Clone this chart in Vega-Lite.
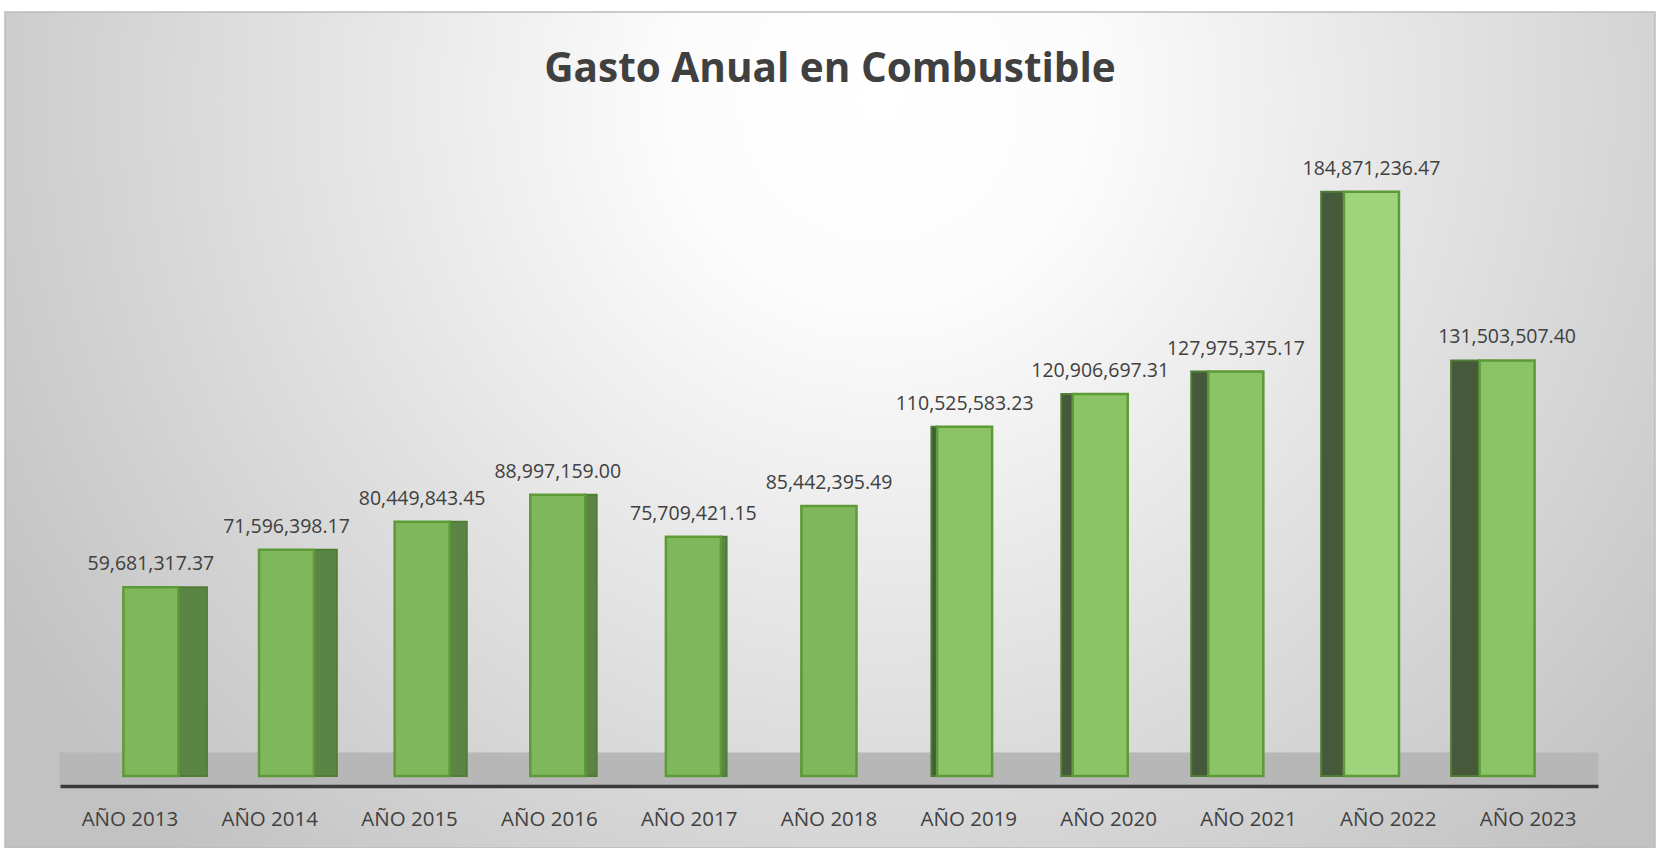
{
  "$schema": "https://vega.github.io/schema/vega-lite/v6.json",
  "width": 1650,
  "height": 836,
  "autosize": "none",
  "padding": {"left": 5, "top": 12, "right": 11, "bottom": 0},
  "background": "#ffffff",
  "config": {
    "view": {
      "stroke": "#bcbcbc",
      "strokeWidth": 1.5,
      "fill": {
        "gradient": "radial",
        "x1": 0.53, "y1": 0.3, "r1": 0,
        "x2": 0.53, "y2": 0.3, "r2": 0.62,
        "stops": [
          {"offset": 0, "color": "#ffffff"},
          {"offset": 0.2, "color": "#fcfcfc"},
          {"offset": 1, "color": "#c2c2c2"}
        ]
      }
    }
  },
  "title": {
    "text": "Gasto Anual en Combustible",
    "offset": -110,
    "baseline": "alphabetic",
    "anchor": "middle",
    "frame": "group",
    "font": "Open Sans",
    "fontSize": 40.5,
    "fontWeight": "bold",
    "color": "#404040"
  },
  "data": {
    "values": [
      {"anio": "AÑO 2013", "gasto": 59681317.37},
      {"anio": "AÑO 2014", "gasto": 71596398.17},
      {"anio": "AÑO 2015", "gasto": 80449843.45},
      {"anio": "AÑO 2016", "gasto": 88997159.00},
      {"anio": "AÑO 2017", "gasto": 75709421.15},
      {"anio": "AÑO 2018", "gasto": 85442395.49},
      {"anio": "AÑO 2019", "gasto": 110525583.23},
      {"anio": "AÑO 2020", "gasto": 120906697.31},
      {"anio": "AÑO 2021", "gasto": 127975375.17},
      {"anio": "AÑO 2022", "gasto": 184871236.47},
      {"anio": "AÑO 2023", "gasto": 131503507.40}
    ]
  },
  "encoding": {
    "x": {
      "field": "anio",
      "type": "nominal",
      "sort": null,
      "title": null,
      "scale": {"range": [55, 1593], "paddingInner": 0, "paddingOuter": 0},
      "axis": {
        "orient": "bottom",
        "offset": -62,
        "domainColor": "#3a3a3a",
        "domainWidth": 3.5,
        "ticks": false,
        "tickSize": 0,
        "grid": false,
        "labelAngle": 0,
        "labelPadding": 39,
        "labelBaseline": "alphabetic",
        "labelFont": "Open Sans",
        "labelFontSize": 20.5,
        "labelColor": "#404040"
      }
    }
  },
  "layer": [
    {
      "mark": {"type": "rect", "color": "#b7b7b7", "stroke": "#b7b7b7", "strokeWidth": 1},
      "encoding": {
        "y": {"datum": 7250000, "type": "quantitative", "scale": {"domain": [-3200000, 200000000], "range": [774, 132], "nice": false, "zero": false}, "axis": null},
        "y2": {"datum": -3200000}
      }
    },
    {
      "mark": {
        "type": "bar",
        "width": {"expr": "max(abs(2018 - toNumber(substring(datum.anio, 4))) * 5.7, 0.01)"},
        "xOffset": {"expr": "(2018 - toNumber(substring(datum.anio, 4))) * 7.05 + ((2018 - toNumber(substring(datum.anio, 4))) > 0 ? 27.5 : -27.5)"},
        "fill": {"expr": "toNumber(substring(datum.anio, 4)) < 2018 ? '#5b8544' : '#46593a'"},
        "stroke": "#4f7d34",
        "strokeWidth": 2
      },
      "encoding": {
        "y": {"field": "gasto", "type": "quantitative"},
        "y2": {"datum": 0}
      }
    },
    {
      "mark": {
        "type": "bar",
        "width": 55,
        "xOffset": {"expr": "(2018 - toNumber(substring(datum.anio, 4))) * 4.2"},
        "fill": {"expr": "toNumber(substring(datum.anio, 4)) == 2022 ? '#a0d47c' : (toNumber(substring(datum.anio, 4)) >= 2019 ? '#8bc367' : '#80b65c')"},
        "stroke": "#5c9b36",
        "strokeWidth": 2.5
      },
      "encoding": {
        "y": {"field": "gasto", "type": "quantitative"},
        "y2": {"datum": 0}
      }
    },
    {
      "mark": {
        "type": "text",
        "baseline": "middle",
        "align": "center",
        "dy": -23,
        "xOffset": {"expr": "(2018 - toNumber(substring(datum.anio, 4))) * 4.2"},
        "font": "Open Sans",
        "fontSize": 19.5,
        "color": "#404040"
      },
      "encoding": {
        "y": {"field": "gasto", "type": "quantitative"},
        "text": {"field": "gasto", "type": "quantitative", "format": ",.2f"}
      }
    }
  ]
}
